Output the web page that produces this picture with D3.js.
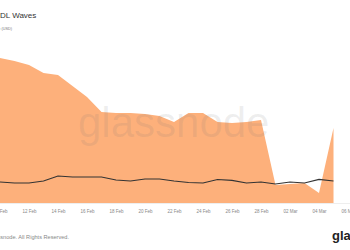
<!DOCTYPE html>
<html>
<head>
<meta charset="utf-8">
<script src="https://cdn.jsdelivr.net/npm/d3@7"></script>
<style>
  html, body { margin: 0; padding: 0; background: #fff; overflow: hidden; }
  text { font-family: "Liberation Sans", Arial, sans-serif; }
</style>
</head>
<body>
<script>
// daily dates, 2023
var dates = ["2023-02-10","2023-02-11","2023-02-12","2023-02-13","2023-02-14","2023-02-15",
  "2023-02-16","2023-02-17","2023-02-18","2023-02-19","2023-02-20","2023-02-21","2023-02-22",
  "2023-02-23","2023-02-24","2023-02-25","2023-02-26","2023-02-27","2023-02-28","2023-03-01",
  "2023-03-02","2023-03-03","2023-03-04","2023-03-05"];

// supply share (%) of the wave band
var wave = [90.6, 88.8, 86.3, 81.3, 80.0, 73.1, 66.3, 56.9, 56.3, 56.3, 55.6, 54.4, 50.6,
  56.3, 56.3, 50.6, 50.0, 50.6, 51.9, 11.3, 11.9, 12.5, 6.3, 46.9];

// price (USD)
var price = [13125, 12500, 12500, 13750, 16875, 16250, 16250, 16250, 14375, 13750, 15000,
  15000, 13750, 12800, 12500, 14700, 14100, 12500, 13125, 11875, 13125, 12500, 14700, 13750];

var tickLabels = ["10 Feb","12 Feb","14 Feb","16 Feb","18 Feb","20 Feb","22 Feb","24 Feb",
  "26 Feb","28 Feb","02 Mar","04 Mar","06 Mar"];

var width = 350, height = 250;
var parse = d3.timeParse("%Y-%m-%d");
var fmtIn = d3.timeParse("%d %b %Y");

var data = dates.map(function(d, i) {
  return {date: parse(d), wave: wave[i], price: price[i]};
});

var svg = d3.select("body").append("svg")
  .attr("width", width).attr("height", height);

var x = d3.scaleTime()
  .domain([parse("2023-02-10"), parse("2023-03-06")])
  .range([0, 348]);

var y = d3.scaleLinear().domain([0, 100]).range([203, 43]);
var y2 = d3.scaleLinear().domain([0, 100000]).range([203, 43]);

// title
svg.append("text")
  .attr("x", -12).attr("y", 18)
  .attr("font-size", 8).attr("fill", "#333")
  .text("HODL Waves");

svg.append("text")
  .attr("x", 12).attr("y", 30)
  .attr("text-anchor", "end")
  .attr("font-size", 3.8).attr("fill", "#777")
  .text("Price (USD)");

// baseline
svg.append("line")
  .attr("x1", 0).attr("x2", width)
  .attr("y1", 203.5).attr("y2", 203.5)
  .attr("stroke", "#eee");

var area = d3.area()
  .x(function(d) { return x(d.date); })
  .y0(y(0))
  .y1(function(d) { return y(d.wave); });

svg.append("path")
  .datum(data)
  .attr("d", area)
  .attr("fill", "#fdb07b");

// watermark
svg.append("text")
  .attr("x", 78).attr("y", 137)
  .attr("font-size", 42)
  .attr("fill", "#777").attr("fill-opacity", 0.13)
  .text("glassnode");

var line = d3.line()
  .x(function(d) { return x(d.date); })
  .y(function(d) { return y2(d.price); });

svg.append("path")
  .datum(data)
  .attr("d", line)
  .attr("fill", "none")
  .attr("stroke", "#333")
  .attr("stroke-width", 1.2);

// x axis labels
var ticks = tickLabels.map(function(t) { return fmtIn(t + " 2023"); });
var xAxis = d3.axisBottom(x)
  .tickValues(ticks)
  .tickSize(0)
  .tickPadding(6)
  .tickFormat(function(d, i) { return tickLabels[i]; });

var gx = svg.append("g")
  .attr("transform", "translate(0,204)")
  .call(xAxis);
gx.select(".domain").remove();
gx.selectAll("text")
  .attr("font-family", "Liberation Sans, Arial, sans-serif")
  .attr("font-size", 4.5)
  .attr("fill", "#888");

// footer
svg.append("text")
  .attr("x", 69).attr("y", 239)
  .attr("text-anchor", "end")
  .attr("font-size", 5.6).attr("fill", "#888")
  .text("\u00a9 2023 Glassnode. All Rights Reserved.");

svg.append("text")
  .attr("x", 332).attr("y", 240)
  .attr("font-size", 13).attr("font-weight", 600).attr("fill", "#222")
  .text("glassnode");
</script>
</body>
</html>
